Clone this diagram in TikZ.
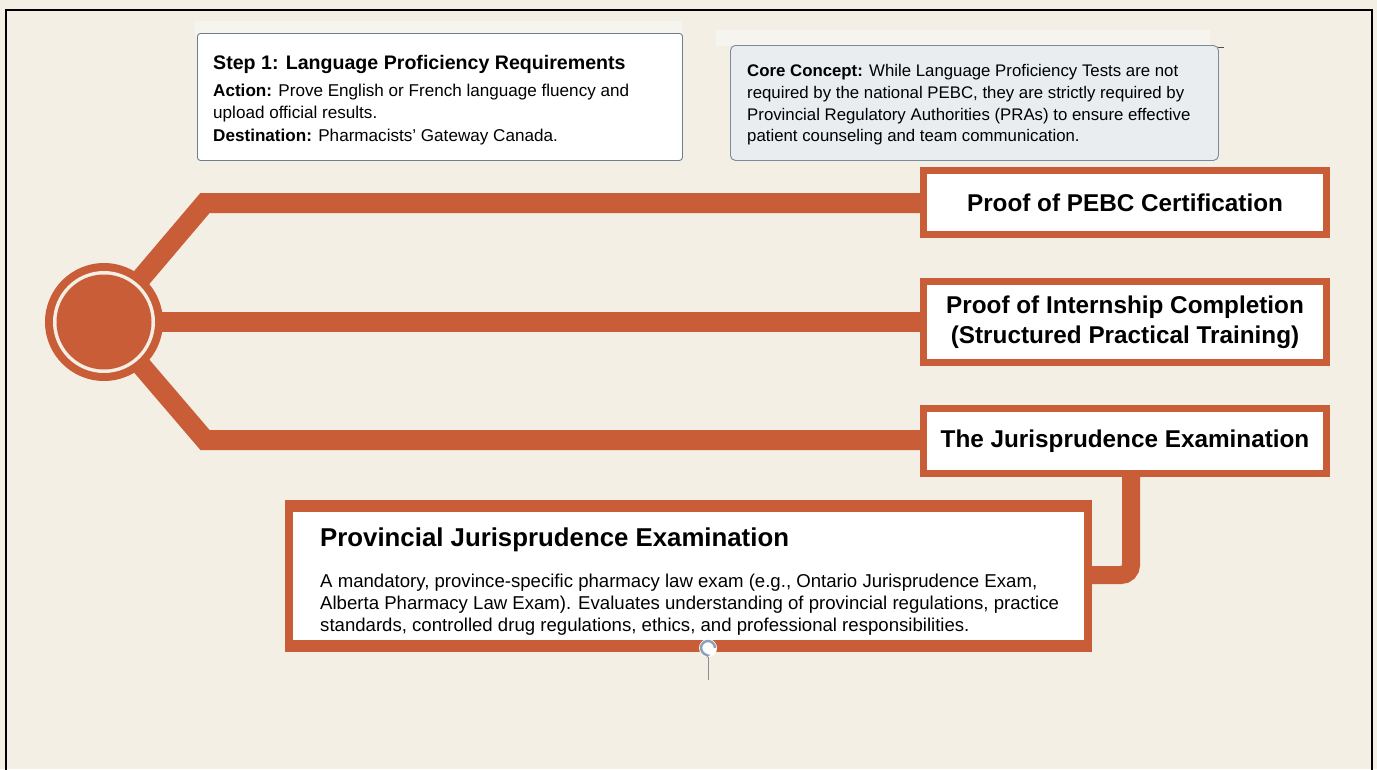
\documentclass[tikz,border=0pt]{standalone}
\usepackage{fontspec}
\setmainfont{Liberation Sans}
\usetikzlibrary{arrows.meta}
\definecolor{bg}{RGB}{243,239,228}
\definecolor{org}{RGB}{201,93,56}
\definecolor{gridc}{RGB}{246,244,238}
\definecolor{conceptfill}{RGB}{233,237,240}
\definecolor{conceptdraw}{RGB}{120,138,155}
\definecolor{stepdraw}{RGB}{110,125,140}
\definecolor{handlec}{RGB}{140,160,185}
\newcommand\fszTitle{\fontsize{19.6}{22}\selectfont}
\newcommand\fszBody{\fontsize{17.1}{22}\selectfont}
\newcommand\fszConcept{\fontsize{16.8}{22}\selectfont}
\newcommand\fszBox{\fontsize{24.3}{30}\selectfont}
\newcommand\fszBigT{\fontsize{25.8}{30}\selectfont}
\newcommand\fszBigB{\fontsize{18.6}{22}\selectfont}
\tikzset{
  wire/.style={draw=org, line width=20pt, line join=miter},
  itembox/.style={draw=org, line width=7pt, fill=white, inner sep=0pt, align=center, font=\fszBox\bfseries},
  txt/.style={anchor=base west, inner sep=0pt},
}
\begin{document}
\begin{tikzpicture}[x=1pt,y=-1pt]
\useasboundingbox (0,0) rectangle (1377,769);
\fill[bg] (0,0) rectangle (1377,769);
% frame
\draw[black, line width=2.2pt] (6,780) -- (6,10) -- (1372,10) -- (1372,780);
% faint grid strips
\fill[gridc] (195,21) rectangle (682,36);
\fill[gridc] (716,30) rectangle (1210,46);
% step 1 box
\node[draw=stepdraw, line width=0.9pt, fill=white, rounded corners=3pt, anchor=north west, minimum width=485pt, minimum height=127pt, inner sep=0pt] (s1) at (197,33) {};
\node[txt, font=\fszTitle\bfseries] (s1t) at (213,69) {Step 1: Language Proficiency Requirements};
\node[txt, font=\fszBody] (s1a) at (213,96) {\textbf{Action:} Prove English or French language fluency and};
\node[txt, font=\fszBody] (s1b) at (213,118) {upload official results.};
\node[txt, font=\fszBody] (s1c) at (213,141) {\textbf{Destination:} Pharmacists' Gateway Canada.};
% core concept box
\node[draw=conceptdraw, line width=0.9pt, fill=conceptfill, rounded corners=5pt, anchor=north west, minimum width=488pt, minimum height=115pt, inner sep=0pt] (cc) at (730,45) {};
\node[txt, font=\fszConcept] (cc1) at (747,76) {\textbf{Core Concept:} While Language Proficiency Tests are not};
\node[txt, font=\fszConcept] (cc2) at (747,98) {required by the national PEBC, they are strictly required by};
\node[txt, font=\fszConcept] (cc3) at (747,120) {Provincial Regulatory Authorities (PRAs) to ensure effective};
\node[txt, font=\fszConcept] (cc4) at (747,141) {patient counseling and team communication.};
\draw[black!70, line width=1pt] (1218,47) -- (1224,47);
% hub
\coordinate (hc) at (104,322);
\coordinate (k1) at (205,203);
\coordinate (k3) at (205,440);
% item boxes
\node[itembox, minimum width=403pt, minimum height=64pt] (b1) at (1125,202.5) {Proof of PEBC Certification};
\node[itembox, minimum width=403pt, minimum height=81pt] (b2) at (1125,322) {Proof of Internship Completion\\(Structured Practical Training)};
\node[itembox, minimum width=403pt, minimum height=65pt] (b3) at (1125,441) {The Jurisprudence Examination};
% wires
\draw[wire] (hc) -- (k1) -- (k1 -| b1.west);
\draw[wire] (hc) -- (hc -| b2.west);
\draw[wire] (hc) -- (k3) -- (k3 -| b3.west);
\node[circle, fill=org, minimum size=118pt, inner sep=0pt] (hub) at (hc) {};
\fill[bg] (hub.center) circle (51pt);
\fill[org] (hub.center) circle (47.5pt);
% provincial box
\fill[org] (285,500) rectangle (1092,652);
\node[fill=white, anchor=north west, minimum width=791pt, minimum height=128pt, inner sep=0pt] (b4) at (293,512) {};
\node[txt, font=\fszBigT\bfseries] (b4t) at (320,546) {Provincial Jurisprudence Examination};
\node[txt, font=\fszBigB] (b4a) at (320,587) {A mandatory, province-specific pharmacy law exam (e.g., Ontario Jurisprudence Exam,};
\node[txt, font=\fszBigB] (b4b) at (320,609) {Alberta Pharmacy Law Exam). Evaluates understanding of provincial regulations, practice};
\node[txt, font=\fszBigB] (b4c) at (320,631) {standards, controlled drug regulations, ethics, and professional responsibilities.};
\coordinate (vx) at (1131,0);
\coordinate (b4r) at (1092,575);
\draw[draw=org, line width=18pt, rounded corners=10pt] (b3.south -| vx) |- (b4r);
% rotation handle
\draw[black!45, line width=0.6pt] (708,657) -- (708,680);
\fill[white] (708,648) circle (9pt);
\draw[draw=handlec, line width=2.4pt, -{Stealth[length=5pt]}] (715,648) arc[start angle=0, end angle=290, radius=7pt];
\end{tikzpicture}
\end{document}
